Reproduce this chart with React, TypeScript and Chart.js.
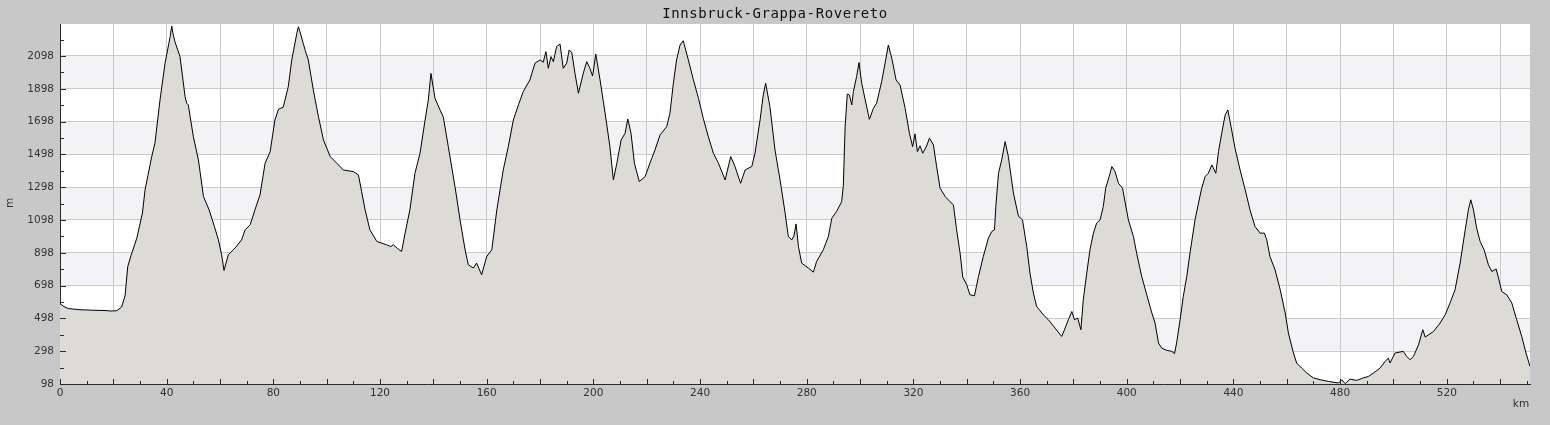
import React, { useEffect, useRef } from "react";
import { Chart, registerables } from "chart.js";

Chart.register(...registerables);

const TITLE = "Innsbruck-Grappa-Rovereto";
const X_UNIT = "km";
const Y_UNIT = "m";

const X_MIN = 0;
const X_MAX = 551.2;
const Y_MIN = 98;
const Y_MAX = 2293;

const distanceKm = [
  0, 1.5, 3.1, 7.5, 12, 16.9, 19, 21.3, 23.1, 24.4, 25.4, 26.6, 28.8, 30.9, 31.9, 34.4, 35.6, 37.5, 39.4, 41.3,
  41.9, 42.3, 43.1, 45, 46.9, 47.5, 48.1, 50, 51.9, 53.8, 55.9, 57.9, 59.4, 60.6, 61.5, 63.1, 65.6, 68.1, 69.4, 71.3,
  73.1, 75, 76.9, 78.8, 80.6, 81.9, 83.7, 85.6, 86.9, 88.8, 89.4, 90, 91.2, 92, 93.1, 95, 96.9, 98.8, 101.3, 103.8,
  106.2, 110, 111.9, 113.1, 114.4, 116.2, 118.8, 122.5, 124, 125, 126.5, 128.1, 129.4, 131.2, 133.1, 135, 136.9, 138.1, 139.1, 140.6,
  142.5, 143.7, 145.6, 148.1, 150, 151.9, 153.1, 155, 156.2, 158.1, 160, 161.9, 163.8, 166.2, 168.1, 170, 171.9, 173.7, 176.2, 178.1,
  180, 181.2, 182.2, 183.1, 184.1, 185, 186.2, 187.5, 188.7, 190, 190.9, 191.9, 193.1, 194.4, 196.2, 197.5, 198.7, 199.7, 200.9, 202.5,
  204.4, 206.2, 207.5, 208.8, 210.4, 211.9, 212.9, 214.1, 215.4, 217.2, 219.4, 221.2, 223.1, 225, 227.5, 228.7, 230, 231.2, 232.5, 233.7,
  235.6, 237.5, 239.4, 241.2, 243.1, 245, 246.9, 249.4, 251.5, 253.1, 255.2, 256.9, 259.4, 260.6, 262.5, 263.7, 264.6, 266.2, 268.1, 270,
  271.9, 273.1, 274.4, 275.2, 276, 276.9, 278.1, 280.6, 282.5, 283.7, 286.2, 288.1, 289.4, 291.2, 293.1, 293.7, 294.4, 295.2, 296, 296.9,
  297.5, 298.7, 299.6, 300.6, 302.2, 303.5, 305, 306.2, 308.1, 309.6, 310.6, 311.9, 313.5, 315, 316.9, 318.5, 319.7, 320.6, 321.5, 322.5,
  323.5, 325, 326, 327.5, 328.7, 330, 331.9, 333.7, 335, 336.2, 337.5, 338.5, 340, 341.2, 342.9, 344.4, 346.2, 348.1, 349.4, 350.4,
  350.9, 351.9, 353.1, 354.4, 355.6, 357.5, 359.4, 360.9, 362.5, 363.7, 365, 366.2, 367.2, 368.7, 370.6, 373.1, 375.6, 376.9, 378.1, 379.4,
  380.4, 381.6, 382.8, 383.7, 385, 386.2, 387.5, 388.7, 390, 391.2, 392.1, 393.4, 394.4, 395.6, 396.9, 398.4, 400.6, 402.5, 403.7, 405.6,
  407.5, 409.4, 410.6, 411.9, 413.1, 415, 416.9, 417.9, 418.7, 420, 421.2, 422.5, 423.7, 425.6, 426.9, 428.1, 429.4, 430.6, 431.9, 433.4,
  434.4, 435.6, 436.9, 437.9, 439.1, 440.6, 442.5, 444.4, 446.2, 448.1, 450, 451.6, 452.5, 453.7, 455.6, 457.5, 459.4, 460.6, 462.5, 463.7,
  465.6, 467.5, 470, 472.5, 475.6, 479.4, 480.6, 481.9, 483.7, 486.2, 488.7, 490.6, 492.5, 495, 496.9, 498.1, 498.7, 500.6, 503.7, 505,
  506.2, 507.5, 509.4, 511, 511.9, 515, 517.5, 519.4, 521.2, 523.1, 525, 526.9, 528.1, 529, 530, 531.2, 532.5, 534, 535.6, 536.9,
  538.5, 539.4, 540.6, 542.5, 544.4, 546.2, 548.1, 549.7, 551.2,
];

const elevationM = [
  588, 570, 558, 551, 548, 546, 543, 545, 567, 636, 814, 880, 987, 1140, 1282, 1485, 1566, 1830, 2054, 2216,
  2281, 2240, 2185, 2094, 1850, 1810, 1800, 1606, 1464, 1241, 1160, 1058, 977, 886, 790, 886, 926, 977, 1038, 1068,
  1160, 1251, 1444, 1515, 1708, 1773, 1786, 1911, 2074, 2236, 2276, 2246, 2175, 2130, 2074, 1890, 1728, 1586, 1485, 1444,
  1403, 1393, 1373, 1271, 1160, 1038, 967, 947, 936, 947, 925, 906, 1018, 1160, 1383, 1505, 1708, 1830, 1992, 1840,
  1769, 1728, 1545, 1302, 1099, 916, 825, 805, 835, 764, 875, 916, 1160, 1403, 1545, 1708, 1800, 1881, 1952, 2054,
  2074, 2060, 2124, 2023, 2094, 2063, 2155, 2171, 2023, 2054, 2134, 2120, 1992, 1871, 1992, 2063, 2023, 1976, 2110, 1952,
  1749, 1545, 1342, 1444, 1586, 1627, 1714, 1627, 1444, 1332, 1363, 1444, 1525, 1617, 1667, 1749, 1932, 2074, 2165, 2191,
  2074, 1952, 1840, 1718, 1606, 1505, 1444, 1342, 1485, 1424, 1322, 1403, 1424, 1505, 1708, 1860, 1932, 1789, 1525, 1342,
  1140, 997, 977, 1000, 1074, 936, 835, 805, 780, 845, 916, 997, 1109, 1150, 1210, 1302, 1667, 1866, 1860, 1800,
  1881, 1972, 2058, 1932, 1810, 1712, 1779, 1810, 1942, 2074, 2165, 2084, 1952, 1921, 1779, 1627, 1545, 1623, 1515, 1550,
  1505, 1550, 1597, 1556, 1424, 1292, 1241, 1210, 1190, 1038, 896, 750, 703, 642, 636, 754, 875, 987, 1028, 1038,
  1180, 1383, 1464, 1576, 1485, 1262, 1120, 1099, 936, 774, 652, 571, 551, 520, 490, 439, 388, 439, 490, 540,
  490, 500, 429, 612, 774, 916, 1018, 1079, 1099, 1180, 1292, 1363, 1424, 1393, 1322, 1292, 1099, 997, 896, 754,
  642, 531, 470, 348, 317, 303, 297, 283, 348, 490, 632, 754, 896, 1099, 1201, 1292, 1363, 1383, 1434, 1383,
  1515, 1627, 1739, 1769, 1667, 1535, 1403, 1282, 1160, 1058, 1018, 1018, 977, 875, 794, 675, 531, 409, 287, 226,
  195, 165, 135, 124, 114, 104, 124, 100, 128, 120, 135, 144, 165, 195, 236, 256, 226, 287, 297, 266,
  246, 266, 337, 429, 384, 418, 470, 520, 591, 673, 835, 1038, 1160, 1221, 1160, 1048, 967, 916, 825, 784,
  799, 744, 662, 642, 591, 490, 388, 287, 205,
];

// tick positions (labels every 40 km / 200 m, minor marks every 10 km / 100 m)
const xTickValues = Array.from({ length: 56 }, (_, i) => i * 10);
const yTickValues = Array.from({ length: 22 }, (_, i) => 98 + i * 100);
const xLabelStep = 40;
const xGridStep = 20;
const yLabelStep = 200;
const bandStarts = [298, 698, 1098, 1498, 1898];

const PAGE_BG = "#c8c8c8";
const PLOT_BG = "#ffffff";
const BAND_BG = "#f3f2f5";
const GRID = "#cbcbcb";
const FILL = "#dcdbd6";
const AXIS = "#2a2a2a";
const TEXT = "#333333";
const FONT = "'DejaVu Sans', sans-serif";

export default function App() {
  const ref = useRef<HTMLCanvasElement>(null);

  useEffect(() => {
    const canvas = ref.current;
    if (!canvas) return;

    const decor = {
      id: "decor",
      beforeDraw(chart: any) {
        const { ctx, chartArea: a, scales } = chart;
        const y = scales.y;
        ctx.save();
        ctx.fillStyle = PAGE_BG;
        ctx.fillRect(0, 0, chart.width, chart.height);
        ctx.fillStyle = PLOT_BG;
        ctx.fillRect(a.left, a.top, a.right - a.left, a.bottom - a.top);
        ctx.fillStyle = BAND_BG;
        bandStarts.forEach((v) => {
          const y0 = Math.round(y.getPixelForValue(v));
          const y1 = Math.round(y.getPixelForValue(v + 200));
          ctx.fillRect(a.left, y1, a.right - a.left, y0 - y1);
        });
        ctx.restore();
      },
      afterDatasetsDraw(chart: any) {
        const { ctx, chartArea: a, scales } = chart;
        const x = scales.x;
        const y = scales.y;
        ctx.save();
        ctx.strokeStyle = AXIS;
        ctx.lineWidth = 1;
        ctx.beginPath();
        xTickValues.forEach((v) => {
          const px = Math.round(x.getPixelForValue(v)) + 0.5;
          const len = v % xGridStep === 0 ? 5 : 3;
          ctx.moveTo(px, a.bottom);
          ctx.lineTo(px, a.bottom - len);
        });
        yTickValues.forEach((v) => {
          const py = Math.round(y.getPixelForValue(v)) + 0.5;
          const len = (v - Y_MIN) % yLabelStep === 0 ? 6 : 4;
          ctx.moveTo(a.left, py);
          ctx.lineTo(a.left + len, py);
        });
        ctx.stroke();
        ctx.restore();
      },
      afterDraw(chart: any) {
        const { ctx, chartArea: a } = chart;
        ctx.save();
        ctx.fillStyle = "#111111";
        ctx.font = "14px 'DejaVu Sans Mono', monospace";
        (ctx as any).letterSpacing = "0.6px";
        ctx.textAlign = "center";
        ctx.textBaseline = "middle";
        ctx.fillText(TITLE, chart.width / 2, 14);
        (ctx as any).letterSpacing = "0px";
        ctx.fillStyle = TEXT;
        ctx.font = `10.5px ${FONT}`;
        ctx.fillText(X_UNIT, a.right - 9, 404);
        ctx.translate(10, 203);
        ctx.rotate(-Math.PI / 2);
        ctx.fillText(Y_UNIT, 0, 0);
        ctx.restore();
      },
    };

    const chart = new Chart(canvas, {
      type: "line",
      data: {
        datasets: [
          {
            data: distanceKm.map((d, i) => ({ x: d, y: elevationM[i] })),
            borderColor: "#000000",
            borderWidth: 1,
            backgroundColor: FILL,
            fill: "start",
            pointRadius: 0,
            tension: 0,
          },
        ],
      },
      options: {
        animation: false,
        responsive: false,
        devicePixelRatio: 1,
        parsing: false,
        layout: { padding: { top: 24, right: 20, left: 0, bottom: 0 } },
        plugins: { legend: { display: false }, tooltip: { enabled: false }, title: { display: false } },
        scales: {
          x: {
            type: "linear",
            min: X_MIN,
            max: X_MAX,
            afterBuildTicks: (s: any) => {
              s.ticks = xTickValues.map((v) => ({ value: v }));
            },
            afterFit: (s: any) => {
              s.height = 41;
            },
            ticks: {
              autoSkip: false,
              maxRotation: 0,
              padding: 3,
              color: TEXT,
              font: { family: FONT, size: 10.5 },
              callback: (v: any) => (Number(v) % xLabelStep === 0 ? String(v) : ""),
            },
            grid: {
              drawTicks: false,
              color: (c: any) =>
                c.tick && c.tick.value % xGridStep === 0 && c.tick.value !== 0 ? GRID : "rgba(0,0,0,0)",
            },
            border: { display: true, color: AXIS, width: 1 },
          },
          y: {
            type: "linear",
            min: Y_MIN,
            max: Y_MAX,
            afterBuildTicks: (s: any) => {
              s.ticks = yTickValues.map((v) => ({ value: v }));
            },
            afterFit: (s: any) => {
              s.width = 60;
            },
            ticks: {
              autoSkip: false,
              padding: 6,
              color: TEXT,
              font: { family: FONT, size: 10.5 },
              callback: (v: any) => ((Number(v) - Y_MIN) % yLabelStep === 0 ? String(v) : ""),
            },
            grid: {
              drawTicks: false,
              color: (c: any) =>
                c.tick && (c.tick.value - Y_MIN) % yLabelStep === 0 && c.tick.value !== Y_MIN
                  ? GRID
                  : "rgba(0,0,0,0)",
            },
            border: { display: true, color: AXIS, width: 1 },
          },
        },
      },
      plugins: [decor],
    });

    return () => chart.destroy();
  }, []);

  return (
    <div style={{ position: "fixed", left: 0, top: 0, width: 1550, height: 425, background: PAGE_BG }}>
      <canvas ref={ref} width={1550} height={425} style={{ width: 1550, height: 425, display: "block" }} />
    </div>
  );
}
